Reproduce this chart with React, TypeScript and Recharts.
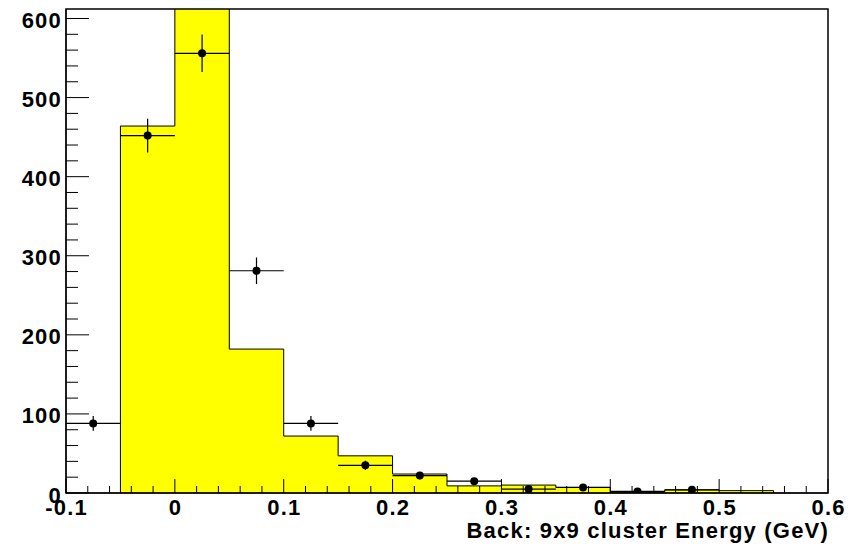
import {
  ComposedChart, Area, Scatter, ErrorBar, XAxis, YAxis, ReferenceArea,
} from "recharts";

// histogram (yellow): bin edges and counts per bin
const binEdges = [-0.05, 0, 0.05, 0.1, 0.15, 0.2, 0.25, 0.3, 0.35, 0.4, 0.45, 0.5, 0.55];
const histCounts = [464, 650, 182, 72, 47, 24, 9, 10, 7, 1, 4, 3];

// data points with errors
const pointX = [-0.075, -0.025, 0.025, 0.075, 0.125, 0.175, 0.225, 0.275, 0.325, 0.375, 0.425, 0.475];
const pointY = [88, 452, 556, 281, 88, 35, 22, 15, 5, 7, 2, 4];
const pointErrY = [9.4, 21.3, 23.6, 16.8, 9.4, 5.9, 4.7, 3.9, 2.2, 2.6, 1.4, 2];
const binHalfWidth = 0.025;

const xMajor = [-0.1, 0, 0.1, 0.2, 0.3, 0.4, 0.5, 0.6];
const yMajor = [0, 100, 200, 300, 400, 500, 600];
const xTitle = "Back: 9x9 cluster Energy (GeV)";

const xTicks: number[] = [];
for (let i = 0; i <= 35; i++) xTicks.push(Math.round((-0.1 + i * 0.02) * 1000) / 1000);
const yTicks: number[] = [];
for (let i = 0; i <= 30; i++) yTicks.push(i * 20);

const histData = [
  { x: binEdges[0], y: 0 },
  ...histCounts.map((c, i) => ({ x: binEdges[i], y: c })),
  { x: binEdges[binEdges.length - 1], y: histCounts[histCounts.length - 1] },
  { x: binEdges[binEdges.length - 1], y: 0 },
];

const pointData = pointX.map((x, i) => ({
  x, y: pointY[i], ey: pointErrY[i], ex: binHalfWidth,
}));

const FONT = "'Liberation Sans', Arial, Helvetica, sans-serif";
const textStyle = { fontSize: 22, fontWeight: "bold" as const, fontFamily: FONT, fill: "#000", letterSpacing: 1.2 };

const isMajor = (list: number[], v: number) => list.some((m) => Math.abs(m - v) < 1e-6);

function XTick({ x, y, payload }: any) {
  const v = payload.value;
  const major = isMajor(xMajor, v);
  return (
    <g>
      <line x1={x} x2={x} y1={y} y2={y - (major ? 14 : 7)} stroke="#000" strokeWidth={1} />
      {major && (
        <text x={x + 0.6} y={y + 22} textAnchor="middle" style={textStyle}>
          {v === 0 ? "0" : String(v)}
        </text>
      )}
    </g>
  );
}

function YTick({ x, y, payload }: any) {
  const v = payload.value;
  const major = isMajor(yMajor, v);
  return (
    <g>
      <line x1={x} x2={x + (major ? 23 : 12)} y1={y} y2={y} stroke="#000" strokeWidth={1} />
      {major && (
        <text x={x - 4} y={y + 9.5} textAnchor="end" style={textStyle}>
          {v}
        </text>
      )}
    </g>
  );
}

function XTitle({ viewBox }: any) {
  const { x, y, width } = viewBox;
  return (
    <text x={x + width + 1} y={y + 45} textAnchor="end" style={textStyle}>
      {xTitle}
    </text>
  );
}

function Dot({ cx, cy }: any) {
  return <circle cx={cx} cy={cy} r={4} fill="#000" />;
}

export default function App() {
  return (
    <div style={{ position: "absolute", left: 0, top: 0, width: 854, height: 547, background: "#fff" }}>
      <ComposedChart width={854} height={547} margin={{ top: 9, right: 26, bottom: 0, left: 0 }}>
        <XAxis
          type="number"
          dataKey="x"
          domain={[-0.1, 0.6]}
          ticks={xTicks}
          interval={0}
          allowDataOverflow
          height={54}
          tickSize={0}
          tickMargin={0}
          tickLine={false}
          axisLine={{ stroke: "#000" }}
          tick={<XTick />}
          label={<XTitle />}
        />
        <YAxis
          type="number"
          dataKey="y"
          domain={[0, 612]}
          ticks={yTicks}
          interval={0}
          allowDataOverflow
          width={66}
          tickSize={0}
          tickMargin={0}
          tickLine={false}
          axisLine={{ stroke: "#000" }}
          tick={<YTick />}
        />
        <Area
          data={histData}
          dataKey="y"
          type="stepAfter"
          fill="#ffff00"
          fillOpacity={1}
          stroke="#000"
          strokeWidth={1}
          isAnimationActive={false}
          dot={false}
          activeDot={false}
        />
        <Scatter data={pointData} dataKey="y" shape={<Dot />} isAnimationActive={false}>
          <ErrorBar dataKey="ey" direction="y" width={0} stroke="#000" strokeWidth={1.2} />
          <ErrorBar dataKey="ex" direction="x" width={0} stroke="#000" strokeWidth={1.2} />
        </Scatter>
        <ReferenceArea x1={-0.1} x2={0.6} y1={0} y2={612} fill="none" stroke="#000" strokeWidth={1.5} ifOverflow="visible" />
      </ComposedChart>
    </div>
  );
}
